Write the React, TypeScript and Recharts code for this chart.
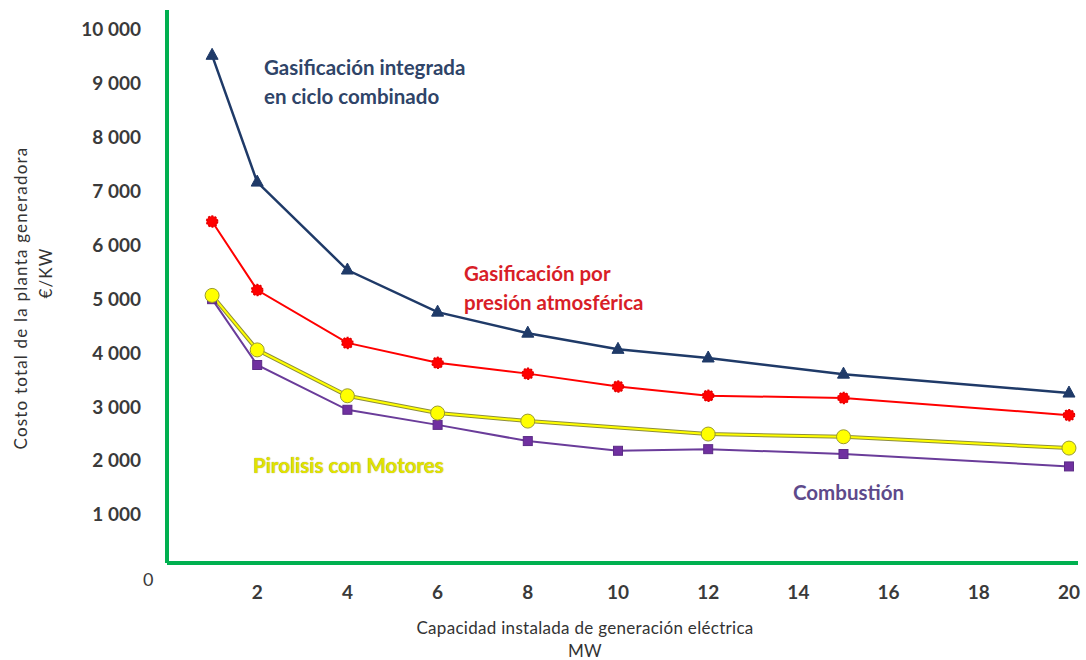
import React from "react"
import { LineChart, Line, XAxis, YAxis } from "recharts"

// capacity in MW
const capacidad = [1, 2, 4, 6, 8, 10, 12, 15, 20]

// €/KW per technology
const gasIntegrada = [9500, 7150, 5520, 4740, 4350, 4050, 3890, 3590, 3240]
const gasAtmosferica = [6420, 5150, 4170, 3800, 3600, 3360, 3190, 3150, 2830]
const pirolisis = [5050, 4040, 3190, 2870, 2720, null, 2480, 2430, 2220]
const combustion = [4980, 3760, 2930, 2650, 2350, 2170, 2200, 2110, 1880]

const xTicks = [2, 4, 6, 8, 10, 12, 14, 16, 18, 20]
const yTicks = [1000, 2000, 3000, 4000, 5000, 6000, 7000, 8000, 9000, 10000]

const data = capacidad.map((mw, i) => ({
  mw,
  gasIntegrada: gasIntegrada[i],
  gasAtmosferica: gasAtmosferica[i],
  pirolisis: pirolisis[i],
  combustion: combustion[i],
}))

const font = "Lato, 'Open Sans', sans-serif"
const green = "#00B050"

const fmt = (v: number) => (v >= 1000 ? `${Math.floor(v / 1000)} 000` : `${v}`)

const YTick = (props: any) => (
  <text x={141} y={props.y} textAnchor="end" dominantBaseline="central"
    fontFamily={font} fontSize={19} fontWeight={700} fill="#3a3a3a">
    {fmt(props.payload.value)}
  </text>
)

const XTick = (props: any) => (
  <text x={props.x} y={props.y + 20} textAnchor="middle" dominantBaseline="central"
    fontFamily={font} fontSize={19} fontWeight={700} fill="#3a3a3a">
    {props.payload.value}
  </text>
)

const Triangle = (props: any) => {
  const { cx, cy } = props
  if (cx == null || cy == null) return <g />
  return <path d={`M${cx},${cy - 7} L${cx + 6},${cy + 4} L${cx - 6},${cy + 4} Z`} fill="#1F3A68" stroke="#1F3A68" />
}

const RedDot = (props: any) => {
  const { cx, cy } = props
  if (cx == null || cy == null) return <g />
  return <circle cx={cx} cy={cy} r={5.5} fill="#FF0000" stroke="#E00000" strokeWidth={1.5} strokeDasharray="2 1.5" />
}

const YellowDot = (props: any) => {
  const { cx, cy } = props
  if (cx == null || cy == null) return <g />
  return <circle cx={cx} cy={cy} r={7} fill="#FFFF00" stroke="#9A9A30" strokeWidth={1} />
}

const Square = (props: any) => {
  const { cx, cy } = props
  if (cx == null || cy == null) return <g />
  return <rect x={cx - 4.5} y={cy - 4.5} width={9} height={9} fill="#7030A0" stroke="#5B2C86" />
}

const note = (left: number, top: number, color: string, extra: React.CSSProperties = {}) => ({
  position: "absolute" as const,
  left,
  top,
  color,
  fontFamily: font,
  fontSize: 20.5,
  fontWeight: 700,
  lineHeight: "29px",
  whiteSpace: "nowrap" as const,
  ...extra,
})

export default function App() {
  return (
    <div style={{ position: "absolute", left: 0, top: 0, width: 1086, height: 660, background: "#fff", overflow: "hidden" }}>
      <LineChart width={1086} height={660} data={data}
        margin={{ top: 10, right: 8, bottom: 67, left: 107 }}>
        <XAxis dataKey="mw" type="number" domain={[0, 20.2]} ticks={xTicks} allowDataOverflow
          axisLine={{ stroke: green, strokeWidth: 4 }} tickLine={false} tick={<XTick />} height={30} />
        <YAxis type="number" domain={[90, 10340]} ticks={yTicks} allowDataOverflow
          axisLine={{ stroke: green, strokeWidth: 4 }} tickLine={false} tick={<YTick />} width={60} />
        <Line dataKey="gasIntegrada" stroke="#1F3A68" strokeWidth={2.5} dot={<Triangle />} isAnimationActive={false} />
        <Line dataKey="gasAtmosferica" stroke="#FF0000" strokeWidth={2} dot={<RedDot />} isAnimationActive={false} />
        <Line dataKey="combustion" stroke="#6A3C9A" strokeWidth={2} dot={<Square />} isAnimationActive={false} />
        <Line dataKey="pirolisis" stroke="#8E8E3A" strokeWidth={4} dot={false} connectNulls isAnimationActive={false} />
        <Line dataKey="pirolisis" stroke="#FFFF00" strokeWidth={2} dot={<YellowDot />} connectNulls isAnimationActive={false} />
      </LineChart>

      <div style={note(264, 53, "#2F4468")}>Gasificación integrada<br />en ciclo combinado</div>
      <div style={note(464, 259, "#D81E28")}>Gasificación por<br />presión atmosférica</div>
      <div style={note(253, 451, "#E2E200", { textShadow: "0 0 1px #8a8a30" })}>Pirolisis con Motores</div>
      <div style={note(793, 478, "#5E4A8B")}>Combustión</div>

      <div style={{ position: "absolute", left: 143, top: 568, fontFamily: font, fontSize: 18, color: "#3a3a3a" }}>0</div>

      <div style={{ position: "absolute", left: 380, top: 616, width: 410, textAlign: "center",
        fontFamily: font, fontSize: 17, letterSpacing: 0.3, lineHeight: "23px", color: "#333" }}>
        Capacidad instalada de generación eléctrica<br />MW
      </div>

      <div style={{ position: "absolute", left: 33, top: 298, width: 0, height: 0 }}>
        <div style={{ position: "absolute", transform: "translate(-50%, -50%) rotate(-90deg)", whiteSpace: "nowrap",
          textAlign: "center", fontFamily: font, fontSize: 17, lineHeight: "25px", letterSpacing: 1.2, color: "#333" }}>
          Costo total de la planta generadora<br />
          <span style={{ position: "relative", left: 25 }}>€/KW</span>
        </div>
      </div>
    </div>
  )
}
